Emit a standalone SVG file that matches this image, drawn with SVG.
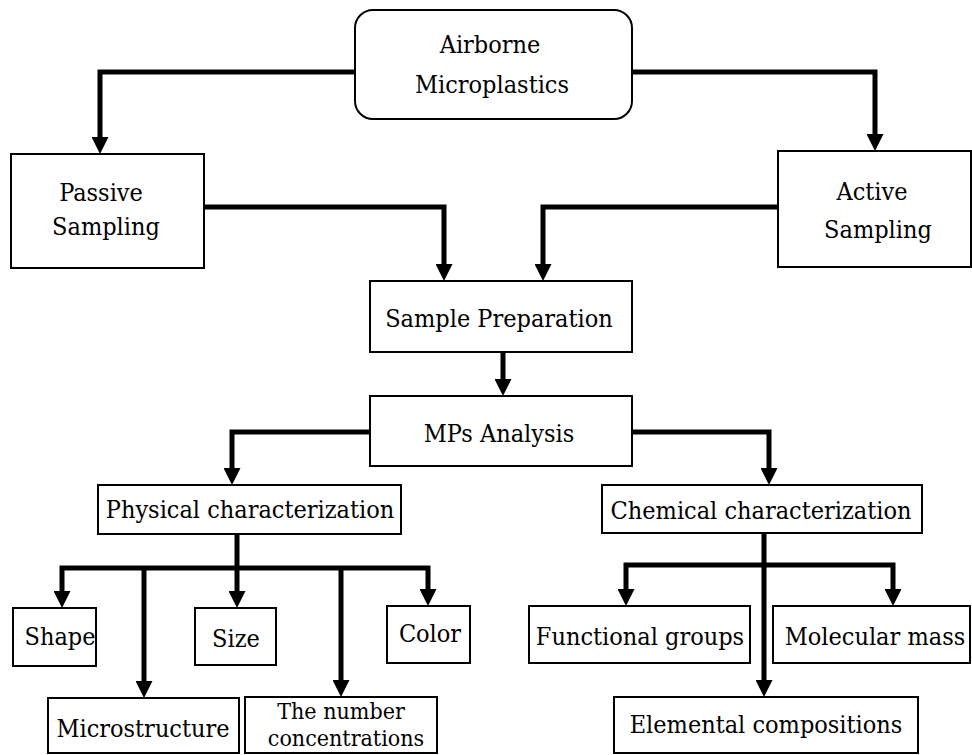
<svg xmlns="http://www.w3.org/2000/svg" width="972" height="755" viewBox="0 0 972 755" font-family="DejaVu Serif Condensed, DejaVu Serif, serif">
<style>
.box{fill:#fff;stroke:#000;stroke-width:2}
.t{font-size:25px;font-stretch:condensed;fill:#000;text-anchor:middle}
.s{font-size:23px}
.c{fill:none;stroke:#000;stroke-width:5;stroke-linejoin:miter;marker-end:url(#ah)}
.n{fill:none;stroke:#000;stroke-width:5}
</style>
<defs>
<marker id="ah" markerUnits="userSpaceOnUse" markerWidth="17" markerHeight="17" viewBox="0 0 17 17" refX="0" refY="8.5" orient="auto">
<path d="M0,0 L17,8.5 L0,17 z" fill="#000"/>
</marker>
</defs>
<rect width="972" height="755" fill="#fff"/>
<g id="connectors">
<path class="c" d="M355,72 H100 V137"/>
<path class="c" d="M632,72 H875 V134"/>
<path class="c" d="M204,207 H444 V264"/>
<path class="c" d="M778,207 H543 V264"/>
<path class="c" d="M503,352 V379"/>
<path class="c" d="M370,432 H232 V468"/>
<path class="c" d="M632,432 H769 V468"/>
<path class="n" d="M237,534 V568"/>
<path class="c" d="M237,568 H62 V591"/>
<path class="c" d="M237,568 H428 V589"/>
<path class="c" d="M237,568 V591"/>
<path class="c" d="M144,568 V681"/>
<path class="c" d="M341,568 V680"/>
<path class="c" d="M764,533 V680"/>
<path class="c" d="M764,565 H626 V589"/>
<path class="c" d="M764,565 H893 V589"/>
</g>
<g id="airborne">
<rect class="box" x="355" y="10" width="277" height="109" rx="18"/>
<text class="t" x="490" y="53">Airborne</text>
<text class="t" x="492" y="93">Microplastics</text>
</g>
<g id="passive">
<rect class="box" x="11" y="154" width="193" height="114"/>
<text class="t" x="101" y="201">Passive</text>
<text class="t" x="106" y="235">Sampling</text>
</g>
<g id="active">
<rect class="box" x="778" y="151" width="193" height="116"/>
<text class="t" x="872" y="200">Active</text>
<text class="t" x="878" y="238">Sampling</text>
</g>
<g id="sample-preparation">
<rect class="box" x="370" y="281" width="262" height="71"/>
<text class="t" x="499" y="327">Sample Preparation</text>
</g>
<g id="mps-analysis">
<rect class="box" x="370" y="396" width="262" height="70"/>
<text class="t" x="499" y="442">MPs Analysis</text>
</g>
<g id="physical">
<rect class="box" x="98" y="485" width="303" height="49"/>
<text class="t" x="250" y="518">Physical characterization</text>
</g>
<g id="chemical">
<rect class="box" x="602" y="485" width="320" height="48"/>
<text class="t" x="761" y="519">Chemical characterization</text>
</g>
<g id="shape">
<rect class="box" x="13" y="608" width="83" height="58"/>
<text class="t" x="60" y="645">Shape</text>
</g>
<g id="size">
<rect class="box" x="195" y="608" width="81" height="57"/>
<text class="t" x="236" y="647">Size</text>
</g>
<g id="color">
<rect class="box" x="387" y="606" width="83" height="57"/>
<text class="t" x="430" y="642">Color</text>
</g>
<g id="microstructure">
<rect class="box" x="48" y="698" width="191" height="55"/>
<text class="t" x="143" y="737">Microstructure</text>
</g>
<g id="number-concentrations">
<rect class="box" x="245" y="697" width="192" height="56"/>
<text class="t s" x="341" y="719">The number</text>
<text class="t s" x="346" y="746">concentrations</text>
</g>
<g id="functional-groups">
<rect class="box" x="529" y="606" width="221" height="57"/>
<text class="t" x="640" y="645">Functional groups</text>
</g>
<g id="molecular-mass">
<rect class="box" x="773" y="606" width="197" height="57"/>
<text class="t" x="875" y="645">Molecular mass</text>
</g>
<g id="elemental-compositions">
<rect class="box" x="614" y="697" width="304" height="56"/>
<text class="t" x="766" y="733">Elemental compositions</text>
</g>
</svg>
